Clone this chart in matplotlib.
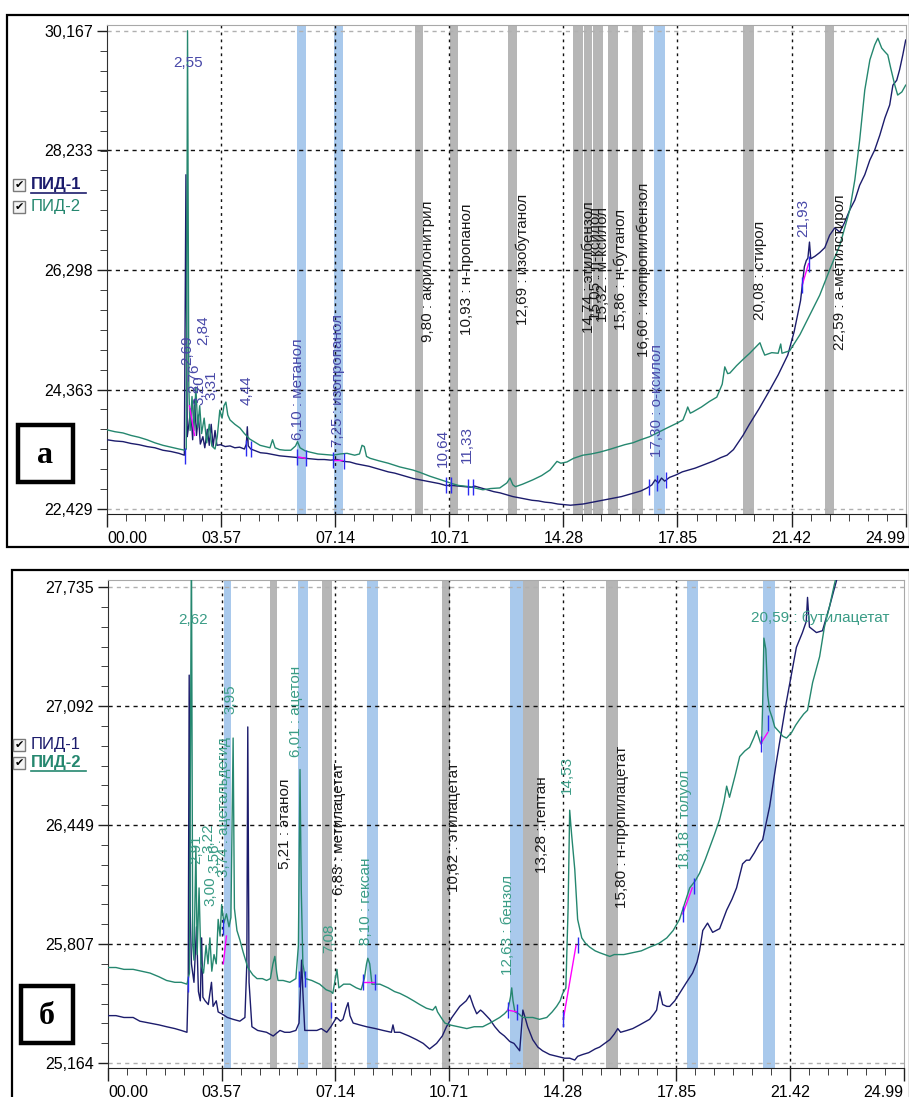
import numpy as np
import matplotlib.pyplot as plt
from matplotlib.patches import Rectangle
from matplotlib.lines import Line2D

plt.rcParams['font.family'] = ['Liberation Sans', 'DejaVu Sans']

W, H = 909, 1097
NAVY = '#1c1c6c'
TEAL = '#25876f'
BLUE_LBL = '#4848a8'
TEAL_LBL = '#3a9c86'
DARK_LBL = '#1a1a1a'
BAND_BLUE = '#a9c9ec'
BAND_GRAY = '#b6b6b6'
MARK = '#2b2bf0'
MAGENTA = '#ff00ff'

# ---------------- common axis ----------------
x_ticks = [0.0, 3.57, 7.14, 10.71, 14.28, 17.85, 21.42, 24.99]
x_labels = ["00.00", "03.57", "07.14", "10.71", "14.28", "17.85", "21.42", "24.99"]

# ---------------- chromatogram а ----------------
a_y_ticks = [22.429, 24.363, 26.298, 28.233, 30.167]
a_y_labels = ["22,429", "24,363", "26,298", "28,233", "30,167"]

a_pid1_t = [0.00, 0.25, 0.50, 0.75, 1.00, 1.25, 1.50, 1.75, 2.00, 2.25, 2.42, 2.47, 2.51,
            2.55, 2.62, 2.68, 2.74, 2.80, 2.86, 2.92, 3.00, 3.06, 3.14, 3.20, 3.26, 3.32, 3.38,
            3.44, 3.55, 3.70, 3.85, 4.00, 4.15, 4.30, 4.36, 4.39, 4.42, 4.50, 4.65, 4.80, 5.00,
            5.20, 5.40, 5.60, 5.80, 6.00, 6.20, 6.40, 6.60, 6.80, 7.00, 7.20, 7.40, 7.60, 7.80,
            8.00, 8.20, 8.40, 8.60, 8.80, 9.00, 9.20, 9.40, 9.60, 9.80, 10.00, 10.20, 10.40,
            10.60, 10.80, 11.00, 11.20, 11.40, 11.50, 11.70, 11.90, 12.10, 12.30, 12.50, 12.70,
            12.90, 13.10, 13.30, 13.50, 13.70, 13.90, 14.10, 14.30, 14.50, 14.70, 14.90, 15.10,
            15.30, 15.50, 15.70, 15.90, 16.10, 16.30, 16.50, 16.70, 16.90, 17.05, 17.15, 17.25,
            17.35, 17.45, 17.60, 17.80, 18.00, 18.20, 18.40, 18.60, 18.80, 19.00, 19.20, 19.40,
            19.60, 19.90, 20.10, 20.40, 20.70, 21.00, 21.30, 21.50, 21.70, 21.82, 21.88, 21.93,
            21.98, 22.02, 22.15, 22.30, 22.46, 22.61, 22.77, 22.93, 23.08, 23.24, 23.40, 23.55,
            23.71, 23.87, 24.02, 24.18, 24.34, 24.49, 24.59, 24.71, 24.80, 24.90, 24.99]
a_pid1_v = [23.55, 23.53, 23.52, 23.49, 23.47, 23.44, 23.42, 23.38, 23.36, 23.33, 23.30, 27.84, 23.60,
            23.75, 24.05, 23.55, 24.20, 23.62, 23.95, 23.48, 23.60, 23.42, 23.72, 23.46, 23.80, 23.44, 23.70,
            23.46, 23.47, 23.44, 23.45, 23.42, 23.43, 23.40, 23.48, 23.76, 23.45, 23.40, 23.37, 23.34, 23.33,
            23.31, 23.29, 23.28, 23.27, 23.26, 23.25, 23.24, 23.23, 23.23, 23.22, 23.23, 23.20, 23.19, 23.16,
            23.14, 23.12, 23.09, 23.06, 23.03, 23.01, 22.98, 22.95, 22.92, 22.90, 22.88, 22.86, 22.84,
            22.81, 22.81, 22.80, 22.79, 22.78, 22.80, 22.77, 22.74, 22.71, 22.69, 22.66, 22.63,
            22.61, 22.59, 22.57, 22.56, 22.54, 22.53, 22.51, 22.50, 22.49, 22.50, 22.51, 22.53,
            22.55, 22.57, 22.59, 22.61, 22.63, 22.66, 22.69, 22.72, 22.77, 22.82, 22.90, 22.85,
            22.93, 22.88, 22.94, 22.98, 23.03, 23.06, 23.09, 23.13, 23.17, 23.21, 23.26, 23.30,
            23.39, 23.62, 23.80, 24.05, 24.32, 24.60, 24.92, 25.30, 25.80, 26.35, 26.45, 26.49,
            26.75, 26.48, 26.52, 26.58, 26.66, 26.86, 26.98, 26.91, 27.07, 27.27, 27.43, 27.67,
            27.84, 28.08, 28.24, 28.48, 28.76, 28.97, 29.29, 29.37, 29.54, 29.78, 30.02]

a_pid2_t = [0.00, 0.25, 0.50, 0.75, 1.00, 1.25, 1.50, 1.75, 2.00, 2.25, 2.44, 2.48, 2.52, 2.56,
            2.60, 2.66, 2.72, 2.78, 2.84, 2.90, 2.96, 3.04, 3.12, 3.20, 3.28, 3.38, 3.45, 3.53,
            3.60, 3.66, 3.72, 3.78, 3.85, 4.00, 4.16, 4.30, 4.47, 4.60, 4.79, 4.95, 5.10, 5.18,
            5.26, 5.40, 5.57, 5.75, 5.90, 5.96, 6.04, 6.20, 6.35, 6.60, 6.85, 7.07, 7.30, 7.51,
            7.75, 7.90, 7.98, 8.05, 8.12, 8.23, 8.50, 8.80, 9.16, 9.40, 9.57, 9.80, 10.10, 10.40,
            10.63, 10.80, 11.00, 11.35, 11.60, 11.76, 12.00, 12.29, 12.51, 12.61, 12.70, 12.78,
            13.00, 13.32, 13.60, 13.86, 14.08, 14.20, 14.39, 14.60, 14.89, 15.15, 15.42, 15.70,
            15.95, 16.20, 16.45, 16.70, 16.98, 17.25, 17.52, 17.80, 18.02, 18.12, 18.17, 18.25,
            18.33, 18.60, 18.85, 19.08, 19.25, 19.33, 19.42, 19.49, 19.70, 19.90, 20.11, 20.30,
            20.43, 20.50, 20.58, 20.80, 21.00, 21.08, 21.12, 21.36, 21.68, 21.99, 22.30, 22.61,
            22.93, 23.24, 23.40, 23.55, 23.71, 23.87, 24.02, 24.12, 24.24, 24.34, 24.43, 24.52,
            24.65, 24.74, 24.87, 24.99]
a_pid2_v = [23.71, 23.68, 23.66, 23.62, 23.59, 23.55, 23.50, 23.46, 23.43, 23.40, 23.38, 23.40, 30.17, 24.40,
            23.70, 24.25, 23.70, 24.40, 23.75, 24.10, 23.65, 23.90, 23.50, 23.80, 23.45, 23.40, 23.60, 24.03,
            23.90, 24.10, 24.16, 23.95, 23.87, 23.80, 23.74, 23.65, 23.56, 23.52, 23.46, 23.44, 23.42, 23.55,
            23.42, 23.39, 23.38, 23.38, 23.45, 23.52, 23.42, 23.37, 23.35, 23.32, 23.31, 23.30, 23.32, 23.33,
            23.30, 23.32, 23.46, 23.44, 23.28, 23.25, 23.21, 23.17, 23.11, 23.08, 23.06, 23.02, 22.96, 22.91,
            22.87, 22.84, 22.81, 22.79, 22.76, 22.74, 22.76, 22.77, 22.85, 22.93, 22.82, 22.79,
            22.83, 22.90, 22.97, 23.06, 23.20, 23.17, 23.19, 23.25, 23.30, 23.32, 23.35, 23.39,
            23.43, 23.47, 23.50, 23.55, 23.60, 23.67, 23.74, 23.81, 23.87, 24.00, 24.08, 23.98,
            24.00, 24.08, 24.17, 24.24, 24.45, 24.73, 24.62, 24.63, 24.75, 24.85, 24.95, 25.05,
            25.12, 25.02, 24.92, 24.96, 24.95, 25.10, 24.95, 24.99, 25.25, 25.57, 25.89, 26.30,
            26.70, 27.27, 27.76, 28.40, 29.21, 29.70, 29.94, 30.05, 29.89, 29.83, 29.78, 29.57,
            29.29, 29.13, 29.18, 29.29]

# identification windows (centre, width, kind)
a_win_t = [6.08, 7.24, 9.76, 10.85, 12.69, 14.73, 15.05, 15.36, 15.83, 16.59, 17.28, 20.07, 22.60]
a_win_w = [0.28, 0.28, 0.25, 0.25, 0.30, 0.30, 0.26, 0.30, 0.30, 0.34, 0.35, 0.35, 0.30]
a_win_kind = ['b', 'b', 'g', 'g', 'g', 'g', 'g', 'g', 'g', 'g', 'b', 'g', 'g']

a_names = ["6,10 : метанол", "7,25 : изопропанол", "9,80 : акрилонитрил", "10,93 : н-пропанол",
           "12,69 : изобутанол", "14,74 : этилбензол", "15,05 : п-ксилол", "15,32 : м-ксилол",
           "15,86 : н-бутанол", "16,60 : изопропилбензол", "17,30 : о-ксилол", "20,08 : стирол",
           "22,59 : а-метилстирол"]
a_names_x = [5.97, 7.23, 10.04, 11.26, 13.01, 15.08, 15.30, 15.51, 16.08, 16.80, 17.20, 20.43, 22.93]
a_names_y = [23.55, 23.43, 25.13, 25.25, 25.41, 25.28, 25.49, 25.46, 25.33, 24.89, 23.27, 25.49, 25.00]
a_names_col = [BLUE_LBL, BLUE_LBL] + [DARK_LBL] * 8 + [BLUE_LBL, DARK_LBL, DARK_LBL]

a_peaks = ["2,69", "2,76", "2,84", "3,20", "3,31", "4,44", "10,64", "11,33", "21,93"]
a_peaks_x = [2.50, 2.72, 3.00, 2.88, 3.28, 4.38, 10.51, 11.26, 21.80]
a_peaks_y = [24.76, 24.30, 25.08, 24.11, 24.19, 24.11, 23.11, 23.17, 26.83]

a_mark_t = [2.45, 4.35, 4.50, 5.95, 6.22, 7.08, 7.40, 10.60, 10.75, 11.28, 11.45, 16.97, 17.20, 17.48, 21.75, 21.95]
a_mark_v = [23.29, 23.42, 23.40, 23.27, 23.25, 23.22, 23.21, 22.82, 22.82, 22.79, 22.79, 22.78, 22.85, 22.90, 26.05, 26.40]
a_base = [((2.58, 2.74), (24.10, 23.62)), ((6.00, 6.20), (23.27, 23.25)),
          ((7.10, 7.36), (23.22, 23.22)), ((21.75, 21.95), (26.05, 26.40))]

# ---------------- chromatogram б ----------------
b_y_ticks = [25.164, 25.807, 26.449, 27.092, 27.735]
b_y_labels = ["25,164", "25,807", "26,449", "27,092", "27,735"]

b_pid1_t = [0.00, 0.25, 0.50, 0.79, 1.00, 1.30, 1.60, 1.84, 2.10, 2.30, 2.48, 2.52, 2.55, 2.58,
            2.62, 2.70, 2.78, 2.84, 2.90, 2.94, 2.98, 3.05, 3.15, 3.25, 3.30, 3.40, 3.46, 3.57,
            3.75, 3.93, 4.14, 4.30, 4.36, 4.39, 4.43, 4.52, 4.70, 4.98, 5.19, 5.40, 5.55, 5.71,
            5.90, 6.00, 6.05, 6.08, 6.12, 6.18, 6.40, 6.56, 6.70, 6.87, 7.00, 7.07, 7.18, 7.30,
            7.38, 7.48, 7.54, 7.60, 7.70, 7.90, 8.12, 8.40, 8.64, 8.90, 8.95, 9.00, 9.17, 9.45,
            9.69, 9.90, 10.10, 10.32, 10.50, 10.63, 10.80, 11.05, 11.25, 11.36, 11.48, 11.58,
            11.70, 11.77, 11.99, 12.15, 12.30, 12.45, 12.62, 12.75, 12.84, 12.93, 13.00, 13.03,
            13.10, 13.18, 13.34, 13.50, 13.65, 13.87, 14.10, 14.34, 14.50, 14.66, 14.75, 14.91,
            15.10, 15.30, 15.44, 15.60, 15.76, 15.90, 16.01, 16.10, 16.30, 16.48, 16.70, 17.01,
            17.15, 17.23, 17.33, 17.42, 17.55, 17.64, 17.80, 17.95, 18.17, 18.36, 18.50, 18.58,
            18.68, 18.83, 18.99, 19.21, 19.43, 19.60, 19.74, 19.93, 20.05, 20.15, 20.30, 20.46,
            20.56, 20.78, 21.00, 21.30, 21.62, 21.81, 21.93, 21.97, 22.03, 22.25, 22.44, 22.66,
            22.91, 23.20]
b_pid1_v = [25.42, 25.42, 25.41, 25.41, 25.39, 25.38, 25.37, 25.36, 25.35, 25.34, 25.33, 25.60, 27.26, 26.00,
            25.70, 25.60, 25.90, 25.55, 25.50, 25.84, 25.52, 25.50, 25.48, 25.60, 25.47, 25.50, 25.44, 25.43,
            25.41, 25.40, 25.39, 25.41, 25.70, 26.98, 25.60, 25.36, 25.34, 25.33, 25.31, 25.34, 25.33, 25.33,
            25.34, 25.38, 25.60, 25.72, 25.55, 25.34, 25.34, 25.34, 25.35, 25.33, 25.36, 25.38, 25.41, 25.39,
            25.40, 25.46, 25.49, 25.42, 25.38, 25.37, 25.36, 25.35, 25.34, 25.33, 25.37, 25.33, 25.33, 25.31,
            25.29, 25.27, 25.24, 25.27, 25.31, 25.36, 25.41, 25.47, 25.50, 25.53, 25.47, 25.43,
            25.45, 25.44, 25.40, 25.36, 25.33, 25.31, 25.28, 25.27, 25.25, 25.23, 25.38, 25.45,
            25.41, 25.36, 25.29, 25.25, 25.23, 25.21, 25.20, 25.19, 25.19, 25.18, 25.20, 25.21,
            25.22, 25.24, 25.25, 25.27, 25.29, 25.32, 25.35, 25.33, 25.34, 25.35, 25.37, 25.40,
            25.43, 25.45, 25.55, 25.48, 25.47, 25.47, 25.50, 25.54, 25.60, 25.65, 25.71, 25.77,
            25.88, 25.92, 25.87, 25.89, 25.99, 26.05, 26.11, 26.24, 26.26, 26.26, 26.30, 26.35,
            26.37, 26.55, 26.80, 27.11, 27.41, 27.49, 27.55, 27.68, 27.52, 27.49, 27.50, 27.63,
            27.79, 28.00]

b_pid2_t = [0.00, 0.25, 0.50, 0.79, 1.05, 1.32, 1.60, 1.84, 2.10, 2.30, 2.48, 2.56, 2.62, 2.66,
            2.70, 2.76, 2.80, 2.86, 2.92, 3.00, 3.08, 3.14, 3.20, 3.26, 3.33, 3.40, 3.46, 3.52,
            3.57, 3.64, 3.72, 3.80, 3.86, 3.93, 3.97, 4.05, 4.14, 4.25, 4.39, 4.55, 4.68, 4.85,
            4.98, 5.10, 5.18, 5.24, 5.30, 5.34, 5.50, 5.71, 5.90, 5.98, 6.03, 6.07, 6.12, 6.20,
            6.40, 6.65, 6.85, 7.00, 7.06, 7.12, 7.19, 7.25, 7.40, 7.60, 7.80, 7.95, 8.05, 8.12,
            8.16, 8.22, 8.29, 8.40, 8.54, 8.80, 9.00, 9.17, 9.40, 9.60, 9.79, 10.00, 10.20, 10.29,
            10.35, 10.50, 10.58, 10.73, 11.00, 11.27, 11.50, 11.77, 12.00, 12.30, 12.45, 12.56,
            12.64, 12.68, 12.72, 12.78, 12.90, 13.03, 13.20, 13.34, 13.55, 13.78, 13.95, 14.09,
            14.20, 14.28, 14.38, 14.45, 14.50, 14.56, 14.66, 14.75, 14.88, 15.00, 15.13, 15.30,
            15.44, 15.60, 15.76, 15.90, 15.98, 16.20, 16.48, 16.75, 17.01, 17.30, 17.55, 17.75,
            17.95, 18.10, 18.27, 18.45, 18.58, 18.75, 18.90, 19.05, 19.21, 19.35, 19.43, 19.52,
            19.70, 19.84, 20.00, 20.15, 20.28, 20.37, 20.50, 20.53, 20.56, 20.60, 20.66, 20.72,
            20.78, 20.86, 20.94, 21.10, 21.19, 21.31, 21.47, 21.60, 21.72, 21.85, 21.97, 22.13,
            22.35, 22.50, 22.66, 22.80, 22.95]
b_pid2_v = [25.68, 25.68, 25.67, 25.67, 25.66, 25.65, 25.63, 25.61, 25.60, 25.60, 25.59, 25.65, 28.00, 25.80,
            25.72, 26.33, 25.75, 26.11, 25.70, 25.65, 25.80, 25.70, 25.84, 25.66, 25.75, 25.70, 25.94, 25.85,
            26.02, 25.92, 25.97, 25.90, 25.95, 26.92, 26.00, 25.88, 25.83, 25.76, 25.68, 25.64, 25.62, 25.62,
            25.61, 25.62, 25.70, 25.74, 25.65, 25.61, 25.61, 25.60, 25.62, 25.80, 26.75, 26.10, 25.70, 25.62,
            25.61, 25.59, 25.56, 25.55, 25.54, 25.60, 25.67, 25.57, 25.59, 25.59, 25.57, 25.56, 25.62, 25.70,
            25.73, 25.70, 25.59, 25.59, 25.59, 25.57, 25.55, 25.54, 25.52, 25.50, 25.48, 25.46, 25.45, 25.47,
            25.44, 25.40, 25.38, 25.37, 25.36, 25.35, 25.36, 25.36, 25.38, 25.41, 25.43, 25.45,
            25.52, 25.57, 25.50, 25.44, 25.43, 25.41, 25.41, 25.41, 25.40, 25.41, 25.44, 25.47,
            25.50, 25.54, 25.57, 26.00, 26.53, 26.40, 26.21, 25.94, 25.84, 25.81, 25.79, 25.77,
            25.76, 25.75, 25.74, 25.75, 25.75, 25.75, 25.76, 25.77, 25.79, 25.81, 25.84, 25.88,
            25.94, 26.02, 26.11, 26.15, 26.19, 26.26, 26.33, 26.40, 26.48, 26.58, 26.66, 26.60,
            26.72, 26.82, 26.85, 26.87, 26.92, 26.96, 26.89, 26.89, 27.10, 27.46, 27.40, 27.15,
            27.07, 27.03, 26.98, 26.95, 26.93, 26.92, 26.95, 26.99, 27.02, 27.05, 27.07, 27.22,
            27.36, 27.52, 27.63, 27.74, 27.85]

b_win_t = [3.75, 5.21, 6.12, 6.87, 8.30, 10.61, 12.82, 13.28, 15.82, 18.35, 20.76]
b_win_w = [0.22, 0.22, 0.30, 0.30, 0.35, 0.25, 0.40, 0.50, 0.37, 0.35, 0.35]
b_win_kind = ['b', 'g', 'b', 'g', 'b', 'g', 'b', 'g', 'g', 'b', 'b']

b_names = ["3,74 : ацетальдегид", "5,21 : этанол", "6,01 : ацетон", "6,83 : метилацетат",
           "8,10 : гексан", "10,62 : этилацетат", "12,63 : бензол", "13,28 : гептан",
           "15,80 : н-пропилацетат", "18,18 : толуол"]
b_names_x = [3.64, 5.56, 5.90, 7.25, 8.10, 10.86, 12.55, 13.62, 16.13, 18.11]
b_names_y = [26.17, 26.21, 26.82, 26.07, 25.80, 26.09, 25.64, 26.19, 26.00, 26.21]
b_names_col = [TEAL_LBL, DARK_LBL, TEAL_LBL, DARK_LBL, TEAL_LBL, DARK_LBL, TEAL_LBL, DARK_LBL, DARK_LBL, TEAL_LBL]

b_peaks = ["2,91", "3,22", "3,00", "3,56", "3,95", "7,08", "14,53"]
b_peaks_x = [2.76, 3.14, 3.23, 3.33, 3.86, 6.94, 14.41]
b_peaks_y = [26.24, 26.30, 26.01, 26.19, 27.05, 25.76, 26.62]

b_mark_t = [2.50, 3.62, 6.00, 6.18, 7.00, 8.02, 8.40, 12.55, 12.85, 14.30, 14.75, 18.05, 18.40, 20.50, 20.72]
b_mark_v = [25.59, 25.90, 25.62, 25.62, 25.45, 25.60, 25.60, 25.45, 25.44, 25.40, 25.80, 25.97, 26.12, 26.89, 27.00]
b_base = [((3.62, 3.72), (25.70, 25.85)), ((8.02, 8.40), (25.60, 25.60)),
          ((12.55, 12.85), (25.45, 25.44)), ((14.30, 14.70), (25.40, 25.80)),
          ((18.05, 18.35), (25.97, 26.11)), ((20.50, 20.72), (26.89, 26.95))]


def fx(x):
    return x / W


def fy(y):
    return 1 - y / H


fig = plt.figure(figsize=(W / 100, H / 100), dpi=100)


def draw_panel(ax, ylim, yt, ytl, p1, p2, wins, names, peaks, marks, bases, lbl_col):
    ax.set_xlim(0, 25.0)
    ax.set_ylim(*ylim)

    # identification windows
    for c, w, k in zip(*wins):
        ax.axvspan(c - w / 2, c + w / 2, color=BAND_BLUE if k == 'b' else BAND_GRAY, lw=0, zorder=0.5)

    # dashed grid
    for i, v in enumerate(yt):
        col = '#b0b0b0' if i in (0, len(yt) - 1) else '#111111'
        ax.axhline(v, color=col, lw=1, ls=(0, (3, 3)), zorder=1)
    for t in x_ticks[1:-1]:
        ax.axvline(t, color='#111111', lw=1, ls=(0, (2, 3)), zorder=1)

    ax.plot(p1[0], p1[1], color=NAVY, lw=1.0, zorder=3)
    ax.plot(p2[0], p2[1], color=TEAL, lw=1.0, zorder=3)

    for (ts, vs) in bases:
        ax.plot(ts, vs, color=MAGENTA, lw=1.0, zorder=3.5)
    ax.plot(marks[0], marks[1], ls='none', marker='|', ms=12, mew=1.0, color=MARK, zorder=3.6)

    for txt, x, y, c in zip(*names):
        ax.text(x, y, txt, rotation=90, ha='center', va='bottom', fontsize=11, color=c, zorder=4)
    for txt, x, y in zip(*peaks):
        ax.text(x, y, txt, rotation=90, ha='center', va='bottom', fontsize=11, color=lbl_col, zorder=4)

    ax.set_xticks(x_ticks)
    ax.set_xticklabels(x_labels)
    xtl = ax.get_xticklabels()
    xtl[0].set_horizontalalignment('left')
    xtl[-1].set_horizontalalignment('right')
    ax.set_xticks(np.arange(0, 25.0, 3.57 / 6), minor=True)
    ax.set_yticks(yt)
    ax.set_yticklabels(ytl)
    step = (yt[1] - yt[0]) / 6
    ax.set_yticks(np.arange(yt[0], yt[-1] + step / 2, step), minor=True)
    ax.tick_params(axis='both', which='major', labelsize=11.5, color='#202020', width=1)
    ax.tick_params(axis='x', which='major', length=9, pad=3)
    ax.tick_params(axis='x', which='minor', length=5, color='#202020')
    ax.tick_params(axis='y', which='major', length=7, pad=3)
    ax.tick_params(axis='y', which='minor', length=5, color='#202020')
    for s in ('top', 'right'):
        ax.spines[s].set_color('#a8a8a8')
    ax.spines['left'].set_color('#303030')
    ax.spines['bottom'].set_color('#202020')


ax_a = fig.add_axes([fx(107), fy(514), fx(799), 489 / H])
draw_panel(ax_a, (22.348, 30.264), a_y_ticks, a_y_labels,
           (a_pid1_t, a_pid1_v), (a_pid2_t, a_pid2_v),
           (a_win_t, a_win_w, a_win_kind),
           (a_names, a_names_x, a_names_y, a_names_col),
           (a_peaks, a_peaks_x, a_peaks_y),
           (a_mark_t, a_mark_v), a_base, BLUE_LBL)
ax_a.text(2.53, 29.65, "2,55", ha='center', va='center', fontsize=11, color=BLUE_LBL, zorder=4)

ax_b = fig.add_axes([fx(108), fy(1068), fx(796), 488 / H])
draw_panel(ax_b, (25.137, 27.774), b_y_ticks, b_y_labels,
           (b_pid1_t, b_pid1_v), (b_pid2_t, b_pid2_v),
           (b_win_t, b_win_w, b_win_kind),
           (b_names, b_names_x, b_names_y, b_names_col),
           (b_peaks, b_peaks_x, b_peaks_y),
           (b_mark_t, b_mark_v), b_base, TEAL_LBL)
ax_b.text(2.67, 27.56, "2,62", ha='center', va='center', fontsize=11, color=TEAL_LBL, zorder=4)
ax_b.text(20.21, 27.57, "20,59 : бутилацетат", ha='left', va='center', fontsize=11, color=TEAL_LBL, zorder=4)

# panel frames
fig.add_artist(Rectangle((fx(7), fy(547)), fx(910 - 7), (547 - 15) / H, transform=fig.transFigure,
                         fill=False, ec='black', lw=1.6))
fig.add_artist(Rectangle((fx(12), fy(1100)), fx(910 - 12), (1100 - 570) / H, transform=fig.transFigure,
                         fill=False, ec='black', lw=1.6))


# detector checkboxes
def legend_entry(y, text, color, active):
    fig.add_artist(Rectangle((fx(13), fy(y + 6)), fx(12), 12 / H, transform=fig.transFigure,
                             fc='#f4f4f4', ec='#7a7a7a', lw=1))
    fig.text(fx(19), fy(y), "✔", family='DejaVu Sans', fontsize=8, ha='center', va='center', color='black')
    fig.text(fx(31), fy(y), text, fontsize=12, ha='left', va='center', color=color,
             weight='bold' if active else 'normal')
    if active:
        fig.add_artist(Line2D([fx(31), fx(86)], [fy(y + 8), fy(y + 8)], transform=fig.transFigure,
                              color=color, lw=1.2))


legend_entry(185, "ПИД-1", NAVY, True)
legend_entry(207, "ПИД-2", TEAL, False)
legend_entry(745, "ПИД-1", NAVY, False)
legend_entry(763, "ПИД-2", TEAL, True)

# panel letters
for (x0, y0, x1, y1, ch) in [(18, 425, 73, 482, "а"), (21, 986, 73, 1043, "б")]:
    fig.add_artist(Rectangle((fx(x0), fy(y1)), fx(x1 - x0), (y1 - y0) / H, transform=fig.transFigure,
                             fc='white', ec='black', lw=3.2))
    fig.text(fx((x0 + x1) / 2), fy((y0 + y1) / 2 + 2), ch, family='Liberation Serif', weight='bold',
             fontsize=23, ha='center', va='center')

fig.savefig('out.png', dpi=100)
